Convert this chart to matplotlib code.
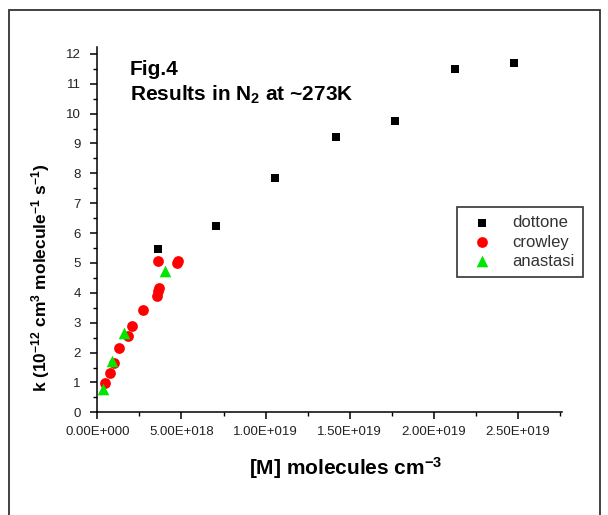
import matplotlib
matplotlib.use("Agg")
import matplotlib.pyplot as plt
from matplotlib.patches import Rectangle
from matplotlib.ticker import MultipleLocator, FuncFormatter

plt.rcParams['font.family'] = ['Liberation Sans', 'DejaVu Sans']
plt.rcParams['mathtext.fontset'] = 'custom'
plt.rcParams['mathtext.rm'] = 'Liberation Sans:bold'
plt.rcParams['mathtext.it'] = 'Liberation Sans:bold'
plt.rcParams['mathtext.bf'] = 'Liberation Sans:bold'

# data: [M] (molecules cm-3), k (1e-12 cm3 molecule-1 s-1)
dottone_m = [3.59e18, 7.05e18, 1.055e19, 1.418e19, 1.768e19, 2.124e19, 2.477e19]
dottone_k = [5.47, 6.24, 7.85, 9.22, 9.76, 11.50, 11.71]

crowley_m = [4.6e17, 7.5e17, 9.9e17, 1.31e18, 1.84e18, 2.04e18, 2.70e18,
             3.53e18, 3.59e18, 3.64e18, 3.59e18, 4.71e18, 4.77e18]
crowley_k = [0.97, 1.33, 1.66, 2.14, 2.56, 2.88, 3.43,
             3.91, 4.07, 4.15, 5.08, 4.99, 5.08]

anastasi_m = [3.6e17, 8.5e17, 1.60e18, 4.04e18]
anastasi_k = [0.77, 1.73, 2.65, 4.74]


def origin_sci(v, pos):
    # Origin style: 5.00E+018
    if v == 0:
        return "0.00E+000"
    s = f"{v:.2E}"
    mant, exp = s.split("E")
    return f"{mant}E{int(exp):+04d}"


fig = plt.figure(figsize=(6.08, 5.15), dpi=100)
ax = fig.add_axes([0.160, 0.1994, 0.764, 0.7088])

ax.scatter(dottone_m, dottone_k, marker='s', s=40, color='black',
           label='dottone', zorder=3, linewidths=0)
ax.scatter(crowley_m, crowley_k, marker='o', s=60, color='#ff0000',
           label='crowley', zorder=3, linewidths=0)
ax.scatter(anastasi_m, anastasi_k, marker='^', s=70, color='#00e600',
           label='anastasi', zorder=4, linewidths=0)

ax.set_xlim(0, 2.76e19)
ax.set_ylim(0, 12.22)
ax.xaxis.set_major_locator(MultipleLocator(5e18))
ax.xaxis.set_minor_locator(MultipleLocator(2.5e18))
ax.yaxis.set_major_locator(MultipleLocator(1))
ax.yaxis.set_minor_locator(MultipleLocator(0.5))
ax.xaxis.set_major_formatter(FuncFormatter(origin_sci))
ax.xaxis.get_offset_text().set_visible(False)

for side in ['top', 'right']:
    ax.spines[side].set_visible(False)
for side in ['left', 'bottom']:
    ax.spines[side].set_linewidth(1.1)

ax.tick_params(which='major', direction='out', length=5, width=1.1,
               labelsize=9.5, labelcolor='#222222')
ax.tick_params(axis='y', which='major', pad=7)
ax.tick_params(axis='x', which='major', pad=5)
ax.tick_params(which='minor', direction='out', length=3, width=1.0)

ax.set_xlabel(r"[M] molecules cm$^{-3}$", fontsize=15, fontweight='bold')
ax.xaxis.set_label_coords(0.534, -0.118)
ax.set_ylabel(r"k (10$^{-12}$ cm$^3$ molecule$^{-1}$ s$^{-1}$)",
              fontsize=12.5, fontweight='bold')
ax.yaxis.set_label_coords(-0.098, 0.37)

fig.text(130 / 608, 1 - 75 / 515, "Fig.4", fontsize=15, fontweight='bold')
fig.text(130 / 608, 1 - 101 / 515, r"Results in N$_2$ at ~273K",
         fontsize=15, fontweight='bold')

leg = ax.legend(loc='upper left', bbox_to_anchor=(0.757, 0.585),
                frameon=True, fancybox=False, edgecolor='black',
                fontsize=12, handletextpad=0.8, borderpad=0.5,
                labelspacing=0.25, scatterpoints=1)
leg.get_frame().set_linewidth(1.2)
for t in leg.get_texts():
    t.set_color('#333333')

# outer page border
fig.patches.append(Rectangle((9 / 608, -0.02), (600 - 9) / 608, 1.02 - 10 / 515,
                             transform=fig.transFigure, fill=False,
                             edgecolor='#333333', linewidth=1.3))

fig.savefig("out.png", dpi=100)
